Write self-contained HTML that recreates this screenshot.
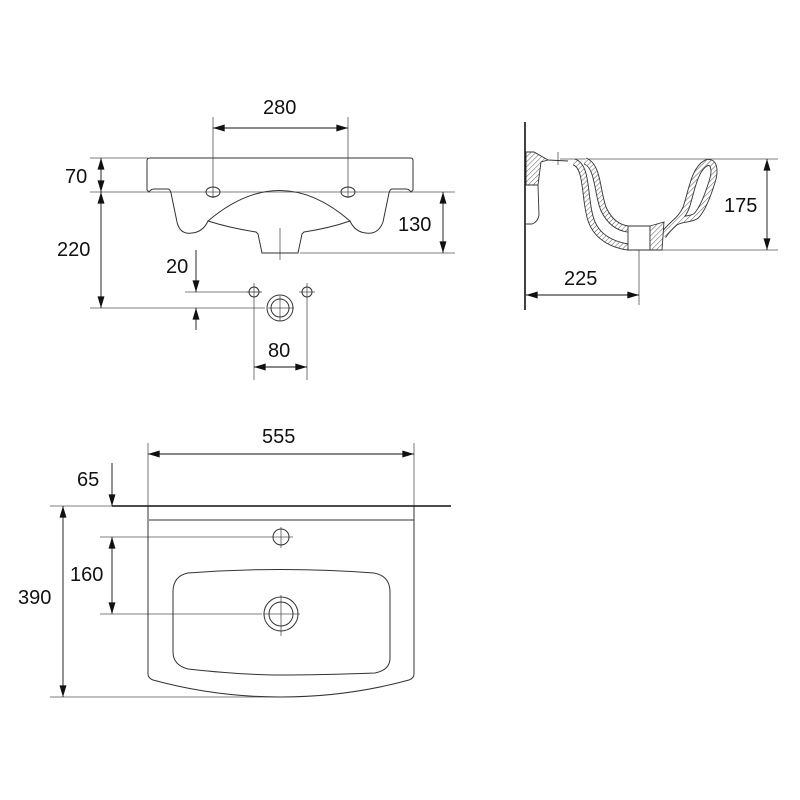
<!DOCTYPE html>
<html><head><meta charset="utf-8"><style>body{margin:0;background:#fff}svg{display:block}text{font-family:"Liberation Sans","DejaVu Sans",sans-serif;font-size:20px;fill:#111}</style></head><body>
<svg width="800" height="800" viewBox="0 0 800 800" xmlns="http://www.w3.org/2000/svg">
<defs>
<marker id="a" viewBox="0 0 10 6" refX="10" refY="3" markerWidth="14" markerHeight="7" markerUnits="userSpaceOnUse" orient="auto-start-reverse"><path d="M0,0L10,3L0,6z" fill="#111"/></marker>
<pattern id="h" width="3.5" height="3.5" patternUnits="userSpaceOnUse" patternTransform="rotate(45)"><rect width="4" height="4" fill="#fff"/><line x1="0" y1="0" x2="0" y2="4" stroke="#444" stroke-width="0.9"/></pattern>
</defs>
<g fill="none" stroke="#555" stroke-width="0.8">
<line x1="90" y1="158" x2="148" y2="158"/>
<line x1="90" y1="192" x2="455" y2="192"/>
<line x1="300" y1="253" x2="455" y2="253"/>
<line x1="90" y1="308" x2="265" y2="308"/>
<line x1="185" y1="292" x2="262" y2="292"/>
<line x1="213" y1="117" x2="213" y2="198"/>
<line x1="348" y1="117" x2="348" y2="198"/>
<line x1="254" y1="283" x2="254" y2="380"/>
<line x1="307" y1="283" x2="307" y2="380"/>
<line x1="280" y1="228" x2="280" y2="260"/>
<line x1="268" y1="308" x2="294" y2="308"/>
<line x1="280" y1="296" x2="280" y2="321"/>
<line x1="246" y1="292" x2="262" y2="292"/>
<line x1="299" y1="292" x2="315" y2="292"/>
</g>
<g fill="none" stroke="#333" stroke-width="1">
<path d="M150,158 H411 Q413,158 413,161 V190 L411,192 Q409,189 406,189 H392 Q390,189 389,193 L383,222 Q378,235 366,233 Q355,232 350,221 Q330,228 304,232 L302,234 L298,253 H262 L258,234 L256,232 Q230,228 208,221 Q203,232 192,233 Q180,235 177,222 L171,193 Q170,189 168,189 H154 Q151,189 149,192 L147,190 V161 Q147,158 150,158 Z"/>
<path d="M208,221 Q280,160 350,221"/>
<ellipse cx="213" cy="192" rx="7" ry="5"/>
<ellipse cx="348" cy="192" rx="7" ry="5"/>
<circle cx="254" cy="292" r="5"/>
<circle cx="307" cy="292" r="5"/>
<circle cx="280" cy="308" r="13"/>
<circle cx="280" cy="308" r="9"/>
</g>
<g stroke="#111" stroke-width="0.9" fill="none">
<line x1="213" y1="128" x2="348" y2="128" marker-start="url(#a)" marker-end="url(#a)"/>
<line x1="101" y1="158" x2="101" y2="192" marker-start="url(#a)" marker-end="url(#a)"/>
<line x1="101" y1="192" x2="101" y2="308" marker-start="url(#a)" marker-end="url(#a)"/>
<line x1="443" y1="192" x2="443" y2="253" marker-start="url(#a)" marker-end="url(#a)"/>
<line x1="196" y1="250" x2="196" y2="292" marker-end="url(#a)"/>
<line x1="196" y1="330" x2="196" y2="308" marker-end="url(#a)"/>
<line x1="254" y1="367" x2="307" y2="367" marker-start="url(#a)" marker-end="url(#a)"/>
</g>
<text x="263" y="114">280</text>
<text x="65" y="183">70</text>
<text x="57" y="256">220</text>
<text x="398" y="231">130</text>
<text x="166" y="273">20</text>
<text x="268" y="357">80</text>
<!-- side view -->
<line x1="525" y1="122" x2="525" y2="310" stroke="#111" stroke-width="1.6"/>
<g fill="none" stroke="#555" stroke-width="0.8">
<line x1="560" y1="159" x2="778" y2="159"/>
<line x1="650" y1="250" x2="778" y2="250"/>
<line x1="639" y1="245" x2="639" y2="305"/>
<line x1="558" y1="152" x2="558" y2="165"/>
</g>
<g stroke="#333" stroke-width="0.9">
<path d="M526,152 L534,152 L548,160 L541,162 L538,185 L526,185 Z" fill="url(#h)"/>
<path d="M538,185 L539,215 Q538,222 532,224 L526,224" fill="none"/>
<path d="M548,160 L568,161" fill="none"/>
</g>
<g fill="none" stroke-linecap="butt">
<path id="b1" d="M574,162 C588,166 584,200 591,220 C597,238 614,245 628,247"/>
<path id="b2" d="M585,161 C599,166 597,195 604,210 C611,224 620,228 628,229"/>
<path id="b3" d="M663,236 C670,224 680,222 686,208 C692,190 694,170 706,163 C714,160 716,170 712,182 C707,198 702,210 696,216 C690,220 683,218 676,222"/>
</g>
<g fill="none">
<use href="#b1" stroke="#333" stroke-width="7"/><use href="#b1" stroke="url(#h)" stroke-width="5.2"/>
<use href="#b2" stroke="#333" stroke-width="7"/><use href="#b2" stroke="url(#h)" stroke-width="5.2"/>
<use href="#b3" stroke="#333" stroke-width="7"/><use href="#b3" stroke="url(#h)" stroke-width="5.2"/>
</g>
<g stroke="#333" stroke-width="0.9">
<path d="M628,226 H650 V250 H628 Z" fill="#fff"/>
<path d="M650,226 L664,222 L662,250 H650 Z" fill="url(#h)"/>
</g>
<g stroke="#111" stroke-width="0.9" fill="none">
<line x1="767" y1="159" x2="767" y2="250" marker-start="url(#a)" marker-end="url(#a)"/>
<line x1="526" y1="295" x2="639" y2="295" marker-start="url(#a)" marker-end="url(#a)"/>
</g>
<text x="724" y="212">175</text>
<text x="564" y="285">225</text>
<!-- bottom view -->
<g fill="none" stroke="#555" stroke-width="0.8">
<line x1="148" y1="443" x2="148" y2="506"/>
<line x1="414" y1="443" x2="414" y2="506"/>
<line x1="50" y1="506" x2="112" y2="506"/>
<line x1="50" y1="697" x2="281" y2="697"/>
<line x1="100" y1="537" x2="270" y2="537"/>
<line x1="100" y1="614" x2="262" y2="614"/>
<line x1="263" y1="614" x2="300" y2="614"/>
<line x1="281" y1="595" x2="281" y2="636"/>
<line x1="270" y1="537" x2="293" y2="537"/>
<line x1="281" y1="527" x2="281" y2="548"/>
</g>
<line x1="112" y1="506" x2="451" y2="506" stroke="#111" stroke-width="1.6"/>
<g fill="none" stroke="#333" stroke-width="1">
<path d="M148,506 V674 Q148,678 153,680 Q215,697 281,697 Q347,697 409,680 Q414,678 414,674 V506"/>
<line x1="149" y1="520" x2="414" y2="520"/>
<path d="M188,573 Q281,566 374,573 Q390,576 390,592 V658 Q390,670 375,673 Q320,675 281,675 Q242,675 188,669 Q173,665 173,652 V592 Q173,576 188,573 Z"/>
<circle cx="281" cy="537" r="8"/>
<circle cx="281" cy="614" r="17"/>
<circle cx="281" cy="614" r="12"/>
</g>
<g stroke="#111" stroke-width="0.9" fill="none">
<line x1="148" y1="454" x2="414" y2="454" marker-start="url(#a)" marker-end="url(#a)"/>
<line x1="63" y1="506" x2="63" y2="697" marker-start="url(#a)" marker-end="url(#a)"/>
<line x1="112" y1="537" x2="112" y2="614" marker-start="url(#a)" marker-end="url(#a)"/>
<line x1="112" y1="463" x2="112" y2="506" marker-end="url(#a)"/>
</g>
<text x="262" y="443">555</text>
<text x="77" y="486">65</text>
<text x="70" y="581">160</text>
<text x="18" y="604">390</text>
</svg>
</body></html>
